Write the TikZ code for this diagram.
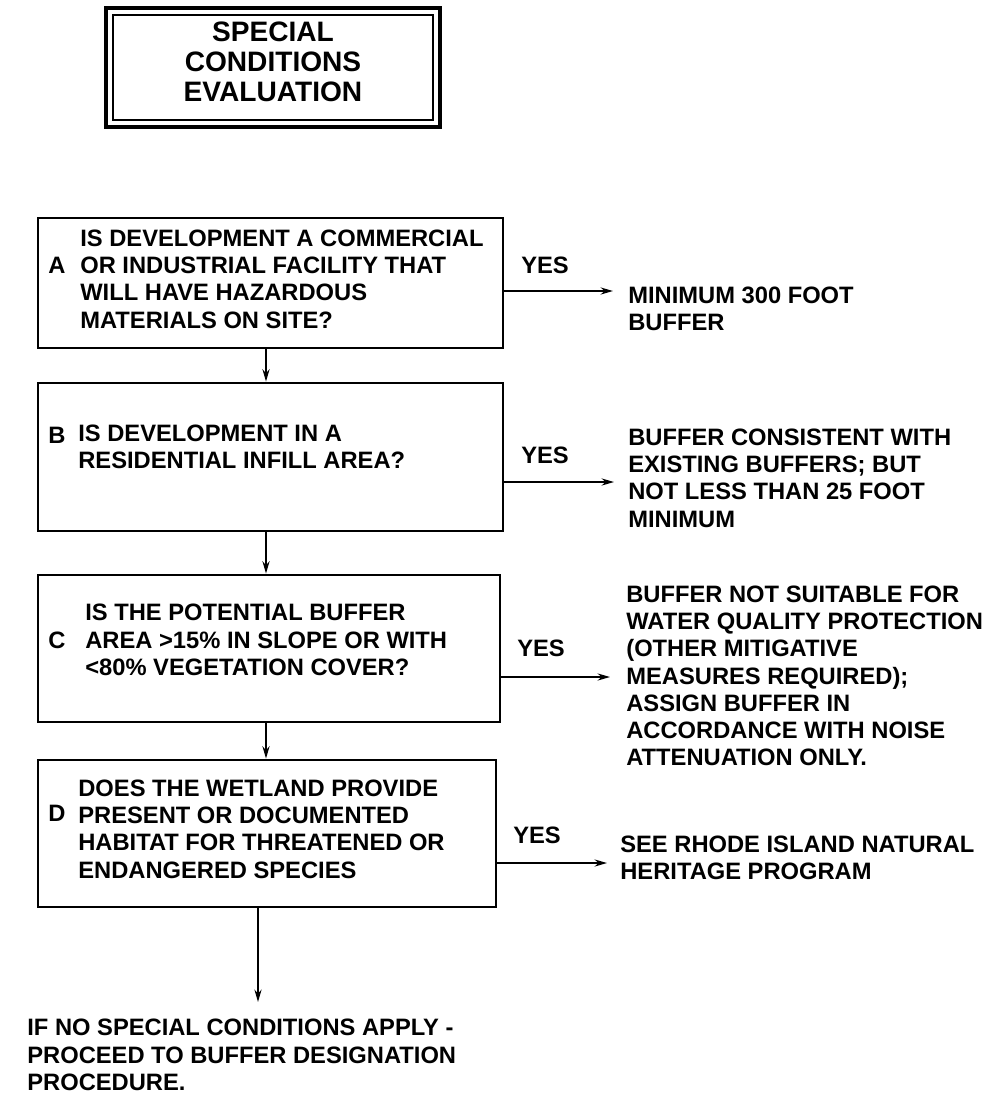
\documentclass[tikz,border=0pt]{standalone}
\usepackage{fontspec}
\setmainfont{Liberation Sans}
\usetikzlibrary{
  arrows.meta,
  positioning,
  fit
}

\begin{document}
\begin{tikzpicture}[
        x=0.02cm, y=-0.02cm,
        >={Stealth[length=7pt,width=4pt]},
        every node/.style={font=\bfseries\fontsize{13.5}{15.5}\selectfont, inner sep=0pt},
        qbox/.style={draw, line width=1.6pt, inner sep=0pt},
        txt/.style={anchor=west, align=left},
        link/.style={->, line width=1.2pt}
    ]
        \useasboundingbox (0,0) rectangle (997,1100);
        % Title with double frame
        \node[font=\bfseries\fontsize{16}{17}\selectfont, align=center] (title) at (273,62) {SPECIAL\\CONDITIONS\\EVALUATION};
        \node[draw, line width=2.2pt, fit={(106,8) (440,127)}] (frameout) {};
        \node[draw, line width=1.1pt, fit={(113,15) (433,120)}] (framein) {};
        % Question boxes
        \node[qbox, fit={(38,218) (503,348)}] (boxA) {};
        \node[qbox, fit={(38,383) (503,531)}] (boxB) {};
        \node[qbox, fit={(38,575) (500,722)}] (boxC) {};
        \node[qbox, fit={(38,760) (496,907)}] (boxD) {};
        \foreach \n/\y in {A/265, B/435, C/640, D/813} {
            \node (let\n) at (57,\y) {\n};
        }
        \node[txt] (qA) at (80,279) {IS DEVELOPMENT A COMMERCIAL\\OR INDUSTRIAL FACILITY THAT\\WILL HAVE HAZARDOUS\\MATERIALS ON SITE?};
        \node[txt] (qB) at (78,447) {IS DEVELOPMENT IN A\\RESIDENTIAL INFILL AREA?};
        \node[txt] (qC) at (85,640) {IS THE POTENTIAL BUFFER\\AREA >15\% IN SLOPE OR WITH\\<80\% VEGETATION COVER?};
        \node[txt] (qD) at (78,829) {DOES THE WETLAND PROVIDE\\PRESENT OR DOCUMENTED\\HABITAT FOR THREATENED OR\\ENDANGERED SPECIES};
        % Down the chain
        \coordinate (spine) at (266,0);
        \foreach \a/\b in {boxA/boxB, boxB/boxC, boxC/boxD} {
            \draw[link] (\a.south -| spine) -- (\b.north -| spine);
        }
        \coordinate (stop) at (258,1002);
        \draw[link] (boxD.south -| stop) -- (stop);
        \node[txt] (proceed) at (27,1055) {IF NO SPECIAL CONDITIONS APPLY -\\PROCEED TO BUFFER DESIGNATION\\PROCEDURE.};
        % YES branches
        \foreach \n/\x/\y in {A/545/265, B/545/455, C/541/648, D/537/835} {
            \node (yes\n) at (\x,\y) {YES};
        }
        \coordinate (tipA) at (613,291);
        \coordinate (tipB) at (614,482);
        \coordinate (tipC) at (610,677);
        \coordinate (tipD) at (607,863);
        \foreach \n in {A,B,C,D} {
            \draw[link] (box\n.east |- tip\n) -- (tip\n);
        }
        \node[txt] (resA) at (628,309) {MINIMUM 300 FOOT\\BUFFER};
        \node[txt] (resB) at (628,478) {BUFFER CONSISTENT WITH\\EXISTING BUFFERS; BUT\\NOT LESS THAN 25 FOOT\\MINIMUM};
        \node[txt] (resC) at (626,676) {BUFFER NOT SUITABLE FOR\\WATER QUALITY PROTECTION\\(OTHER MITIGATIVE\\MEASURES REQUIRED);\\ASSIGN BUFFER IN\\ACCORDANCE WITH NOISE\\ATTENUATION ONLY.};
        \node[txt] (resD) at (620,858) {SEE RHODE ISLAND NATURAL\\HERITAGE PROGRAM};
    \end{tikzpicture}
\end{document}
